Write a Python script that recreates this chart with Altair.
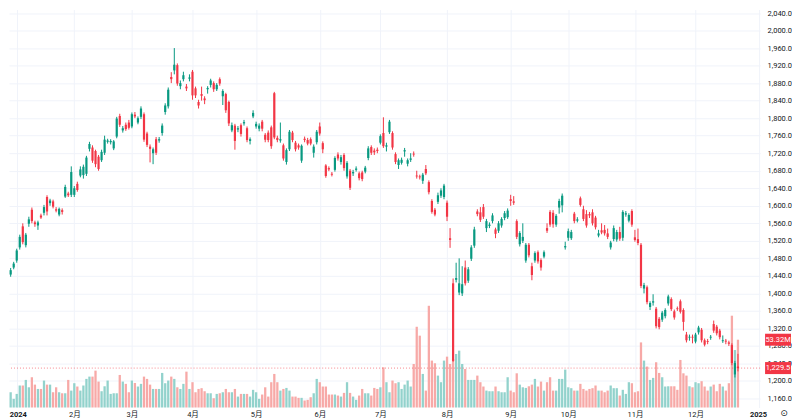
import altair as alt
import pandas as pd

# ---------------- data ----------------
opens = [1443,1459,1475,1505,1553,1510,1559,1591,1562,1555,1578,1584,1620,1606,1610,1592,1580,1590,1621,1628,1625,1625,1650,1669,1670,1673,1730,1733,1725,1712,1704,1721,1746,1745,1731,1758,1805,1772,1785,1790,
         1781,1808,1790,1803,1809,1765,1735,1720,1752,1749,1766,1814,1827,1894,1909,1921,1873,1889,1872,1890,1906,1868,1837,1855,1845,1866,1876,1880,1866,1889,1850,1855,1837,1772,1783,1774,1784,1788,1777,1748,1804,1781,
         1776,1792,1762,1767,1779,1857,1755,1749,1738,1700,1729,1767,1744,1738,1703,1753,1750,1752,1721,1745,1781,1743,1692,1686,1673,1682,1717,1700,1716,1667,1680,1674,1682,1674,1676,1678,1709,1734,1726,1728,
         1744,1766,1735,1768,1766,1718,1693,1698,1724,1696,1705,1719,1669,1667,1657,1684,1654,1611,1591,1609,1623,1620,1607,1526,1423,1431,1402,1400,1459,1429,1479,1509,1587,1585,1597,1549,1554,1565,1546,1543,1555,
         1572,1574,1615,1610,1565,1512,1520,1475,1511,1462,1475,1494,1476,1484,1549,1586,1584,1557,1596,1601,1505,1527,1526,1582,1566,1617,1592,1581,1581,1585,1573,1532,1544,1545,1537,1505,1524,1523,1540,1527,
         1580,1566,1588,1528,1524,1511,1411,1414,1369,1379,1365,1342,1340,1348,1377,1387,1359,1366,1382,1362,1306,1299,1301,1290,1311,1317,1293,1291,1299,1330,1324,1315,1291,1292,1288,1282,1215,1233]
highs = [1458,1472,1502,1534,1560,1538,1575,1596,1566,1566,1582,1602,1624,1616,1614,1597,1596,1594,1648,1632,1690,1645,1655,1690,1694,1714,1746,1738,1728,1716,1728,1760,1753,1752,1750,1803,1810,1782,1790,1796,
         1813,1814,1804,1827,1813,1769,1740,1733,1757,1757,1788,1834,1870,1905,1960,1925,1886,1906,1878,1900,1910,1872,1842,1872,1850,1873,1890,1884,1880,1893,1866,1858,1840,1790,1787,1782,1788,1796,1781,1756,1818,1792,
         1788,1796,1766,1772,1783,1860,1760,1790,1742,1731,1773,1771,1748,1742,1740,1758,1755,1756,1740,1773,1790,1747,1695,1690,1677,1713,1722,1716,1720,1702,1684,1682,1690,1678,1680,1691,1736,1738,1731,1733,
         1763,1802,1744,1796,1770,1722,1708,1710,1732,1708,1720,1724,1680,1671,1675,1693,1658,1615,1595,1630,1640,1650,1612,1549,1434,1470,1480,1462,1475,1460,1510,1552,1592,1597,1604,1570,1562,1583,1550,1565,1574,
         1588,1594,1625,1622,1569,1542,1560,1515,1515,1470,1496,1498,1480,1498,1560,1590,1590,1581,1616,1628,1518,1548,1545,1586,1574,1621,1600,1590,1586,1592,1577,1545,1560,1556,1548,1520,1555,1545,1552,1590,
         1588,1583,1592,1545,1548,1515,1424,1418,1382,1398,1369,1346,1360,1366,1397,1391,1363,1370,1386,1366,1312,1306,1306,1310,1326,1321,1297,1296,1305,1338,1328,1319,1304,1296,1292,1286,1246,1262]
lows = [1438,1455,1470,1500,1512,1505,1552,1560,1552,1545,1570,1578,1578,1600,1594,1585,1576,1580,1618,1620,1620,1620,1632,1665,1662,1668,1724,1698,1688,1680,1700,1716,1742,1740,1727,1754,1780,1767,1771,1774,
        1777,1800,1786,1798,1746,1734,1699,1695,1716,1744,1760,1808,1822,1880,1900,1874,1866,1884,1862,1884,1842,1846,1822,1840,1832,1856,1870,1860,1862,1874,1830,1812,1782,1768,1728,1768,1758,1783,1745,1740,1800,1776,
        1770,1770,1745,1745,1730,1752,1745,1744,1703,1694,1725,1745,1724,1728,1698,1745,1738,1738,1710,1740,1760,1720,1664,1679,1667,1678,1703,1694,1680,1662,1636,1668,1678,1658,1656,1674,1704,1716,1716,1720,
        1740,1732,1724,1764,1728,1695,1684,1694,1712,1690,1700,1712,1662,1660,1650,1670,1626,1582,1576,1604,1618,1615,1565,1504,1244,1425,1396,1394,1418,1424,1474,1504,1576,1563,1570,1540,1549,1560,1526,1538,1550,
        1567,1570,1600,1602,1524,1507,1515,1470,1482,1430,1470,1468,1452,1480,1538,1552,1550,1552,1582,1585,1500,1520,1522,1560,1562,1598,1565,1550,1572,1555,1546,1528,1535,1532,1524,1500,1519,1518,1520,1520,
        1575,1562,1552,1518,1510,1412,1400,1375,1362,1372,1320,1318,1335,1343,1372,1360,1340,1360,1354,1315,1288,1292,1286,1286,1306,1288,1279,1284,1294,1310,1304,1295,1287,1284,1280,1236,1208,1222]
closes = [1453,1468,1498,1529,1517,1534,1569,1565,1558,1562,1573,1597,1587,1612,1598,1589,1593,1586,1643,1624,1677,1640,1636,1683,1689,1710,1741,1703,1695,1684,1723,1751,1749,1748,1747,1799,1785,1777,1775,1778,
          1809,1804,1800,1822,1751,1739,1730,1729,1721,1752,1783,1829,1865,1889,1922,1879,1880,1898,1868,1893,1852,1852,1829,1851,1841,1869,1886,1866,1876,1879,1862,1818,1788,1784,1748,1777,1764,1791,1750,1752,1812,1787,
          1783,1776,1751,1750,1736,1756,1750,1752,1708,1727,1769,1750,1729,1733,1737,1750,1742,1742,1735,1769,1765,1729,1668,1683,1671,1709,1708,1711,1686,1698,1641,1677,1685,1663,1661,1687,1731,1721,1722,1725,
          1759,1736,1738,1792,1733,1700,1704,1705,1727,1704,1708,1717,1667,1665,1671,1674,1631,1586,1580,1624,1635,1646,1575,1522,1246,1435,1423,1421,1423,1455,1505,1546,1581,1568,1575,1565,1557,1578,1536,1560,1570,
          1583,1589,1611,1607,1529,1538,1529,1511,1487,1442,1492,1473,1459,1494,1543,1557,1558,1577,1611,1623,1508,1542,1540,1565,1569,1602,1570,1555,1578,1560,1551,1537,1539,1537,1529,1516,1549,1540,1525,1586,
          1583,1579,1557,1522,1515,1417,1419,1380,1378,1382,1325,1323,1356,1362,1393,1364,1345,1364,1358,1335,1293,1301,1299,1306,1322,1293,1283,1289,1301,1315,1309,1300,1293,1290,1285,1241,1241,1229.5]
volumes_m = [12.0,6.8,10.7,17.3,17.3,21.7,15.9,23.8,18.0,14.6,14.6,21.2,18.0,18.0,12.0,15.9,12.0,11.2,11.2,21.7,13.3,19.1,16.5,13.3,17.3,22.5,24.3,24.3,29.0,20.4,12.8,16.7,21.2,10.7,11.2,11.2,25.6,20.4,18.6,12.0,
             21.2,19.3,16.5,18.6,24.3,22.5,18.0,14.6,14.6,14.6,27.2,19.1,21.2,24.3,22.5,15.9,14.6,18.6,28.2,14.6,19.9,12.0,14.6,15.2,12.8,11.2,11.2,7.3,10.7,11.2,12.0,14.6,12.0,12.0,14.6,8.6,10.7,10.7,10.7,8.6,13.9,12.0,
             6.8,10.2,15.9,8.6,19.9,26.4,19.9,13.3,14.6,15.4,13.3,8.6,8.6,7.6,7.6,5.5,6.0,8.1,11.2,22.5,19.9,16.5,16.5,10.2,10.2,10.2,9.4,8.6,11.5,19.9,11.5,8.6,6.0,9.4,14.6,11.2,11.2,9.4,15.4,14.6,
             15.9,31.6,19.9,12.0,21.2,19.1,19.9,14.6,18.0,21.2,16.5,34.2,63.5,56.5,26.4,13.3,80.0,36.9,34.8,25.1,19.9,36.9,40.0,34.2,38.2,42.1,44.7,34.2,30.3,21.7,21.7,21.7,25.1,19.9,16.5,13.3,12.8,12.8,16.5,12.8,12.0,
             12.0,23.8,13.3,12.0,26.9,18.0,15.9,15.4,16.7,18.0,22.5,16.5,20.4,13.3,19.9,23.8,13.3,13.3,22.5,22.5,29.8,15.9,15.2,13.3,13.3,18.6,14.6,13.3,14.6,15.2,17.3,13.3,13.3,12.0,13.3,17.3,15.2,15.2,9.4,13.9,
             10.7,19.9,19.1,12.0,12.8,51.2,36.9,32.2,21.7,23.3,35.6,27.2,23.8,16.5,16.7,16.7,16.7,13.9,37.4,26.9,25.1,16.7,15.9,19.9,19.1,20.7,16.5,13.3,16.5,18.0,12.8,18.6,16.5,13.3,19.1,72.2,45.2,53.32]

tick_idx = [2, 21, 40, 60, 81, 102, 122, 144, 165, 184, 206, 226, 247]
tick_lbl = ["2024", "2月", "3月", "4月", "5月", "6月", "7月", "8月", "9月", "10月", "11月", "12月", "2025"]
price_ticks = list(range(1160, 2041, 40))
last_close = closes[-1]
last_vol = volumes_m[-1]

# ---------------- layout / style ----------------
W, H = 753, 399
X_DOM = [-0.55, 247.3]
P_DOM = [1139.5, 2048]
V_DOM = [0, 313]
UP, DN = "#089981", "#f23645"
UPV, DNV = "#92d2cc", "#f7a9a7"
GRID = "#f0f3fa"
TXT = "#131722"
FONT = "Roboto, 'Noto Sans CJK JP', sans-serif"

df = pd.DataFrame({"i": list(range(len(closes))), "open": opens, "high": highs,
                   "low": lows, "close": closes, "vol": volumes_m})

label_expr = ("[" + ",".join(f"'{l}'" for l in tick_lbl) + "][indexof(["
              + ",".join(str(v) for v in tick_idx) + "], datum.value)]")

xaxis = alt.Axis(values=tick_idx, labelExpr=label_expr, grid=True, gridColor=GRID,
                 ticks=False, domain=False, labelFont=FONT, labelFontSize=7.5,
                 labelColor=TXT, labelPadding=3, labelFlush=8, labelFlushOffset=7.5,
                 title=None,
                 labelFontWeight={"condition": {"test": "datum.value == 2 || datum.value == 247",
                                                "value": "bold"}, "value": "normal"})
xscale = alt.Scale(domain=X_DOM, nice=False, zero=False, padding=0)
X = alt.X("i:Q", scale=xscale, axis=xaxis)

yaxis = alt.Axis(orient="right", values=price_ticks, format=",.1f", grid=True,
                 gridColor=GRID, ticks=False, domain=False, labelFont=FONT,
                 labelFontSize=7.5, labelColor=TXT, labelPadding=7, labelAlign="left",
                 labelFlush=False, title=None)
pscale = alt.Scale(domain=P_DOM, nice=False, zero=False)
vscale = alt.Scale(domain=V_DOM, nice=False, zero=True)

up_test = "datum.close >= datum.open"
base = alt.Chart(df)

# volume group
vol_bars = base.mark_bar(size=2.3).encode(
    x=X, y=alt.Y("vol:Q", scale=vscale, axis=None),
    color=alt.condition(up_test, alt.value(UPV), alt.value(DNV)))
vdf = pd.DataFrame({"v": [last_vol]})
vol_box = alt.Chart(vdf).transform_calculate(
    top="datum.v + 4.7", bot="datum.v - 4.7"
).mark_rect(color=DN).encode(
    x=alt.value(W + 5), x2=alt.value(W + 31),
    y=alt.Y("top:Q", scale=vscale, axis=None), y2="bot:Q")
vol_txt = alt.Chart(vdf).transform_calculate(
    lab="format(datum.v, '.2f') + 'M'"
).mark_text(color="white", font=FONT, fontSize=7.5, align="center", baseline="middle").encode(
    x=alt.value(W + 18), y=alt.Y("v:Q", scale=vscale, axis=None), text="lab:N")
vol_group = alt.layer(vol_bars, vol_box, vol_txt)

# price group
pdf = pd.DataFrame({"p": [last_close]})
price_line = alt.Chart(pdf).mark_rule(color=DN, strokeDash=[1, 2], opacity=0.6, strokeWidth=1).encode(
    y=alt.Y("p:Q", scale=pscale, axis=yaxis))
wicks = base.mark_rule(strokeWidth=1).encode(
    x=X, y=alt.Y("low:Q", scale=pscale, axis=yaxis), y2="high:Q",
    color=alt.condition(up_test, alt.value(UP), alt.value(DN)))
bodies = base.mark_bar(size=2.2).encode(
    x=X, y=alt.Y("open:Q", scale=pscale, axis=yaxis), y2="close:Q",
    color=alt.condition(up_test, alt.value(UP), alt.value(DN)))
price_box = alt.Chart(pdf).transform_calculate(
    top="datum.p + 13.7", bot="datum.p - 13.7"
).mark_rect(color=DN).encode(
    x=alt.value(W + 5), x2=alt.value(W + 31),
    y=alt.Y("top:Q", scale=pscale, axis=yaxis), y2="bot:Q")
price_txt = alt.Chart(pdf).mark_text(color="white", font=FONT, fontSize=7.5, align="center",
                                     baseline="middle").encode(
    x=alt.value(W + 18), y=alt.Y("p:Q", scale=pscale, axis=yaxis),
    text=alt.Text("p:Q", format=",.1f"))
icon = alt.Chart(pdf).mark_text(color=TXT, font="DejaVu Sans", fontSize=9, align="center",
                                baseline="middle").encode(
    x=alt.value(W + 24), y=alt.value(H + 6), text=alt.value("⊙"))
price_group = alt.layer(price_line, wicks, bodies, price_box, price_txt, icon)

chart = alt.layer(vol_group, price_group).resolve_scale(y="independent").properties(
    width=W, height=H, padding=0, background="white"
).configure_view(stroke=None)

chart.save("out.html", embed_options={"renderer": "svg", "actions": False})
